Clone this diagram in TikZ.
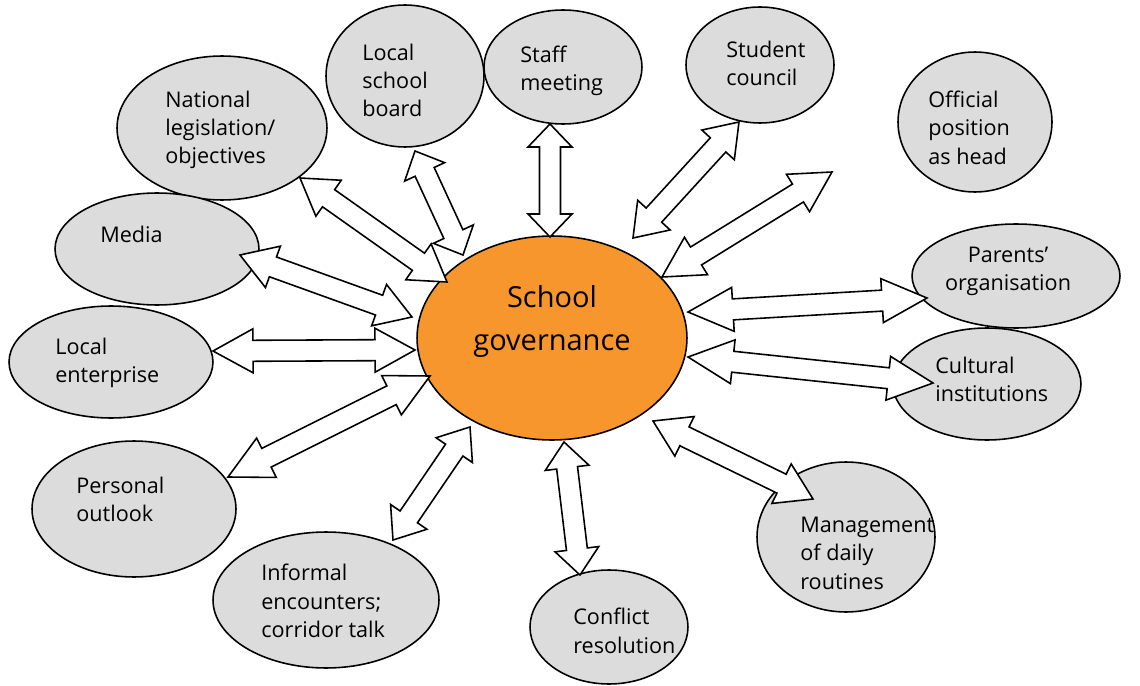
\documentclass[tikz,border=0pt]{standalone}
\usepackage{fontspec}
\setmainfont{Open Sans}
\usetikzlibrary{calc,shapes.geometric}
\definecolor{bubblegray}{RGB}{220,220,220}
\definecolor{coreorange}{RGB}{247,150,45}
\tikzset{
  bubble/.style={ellipse, draw=black, fill=bubblegray, line width=0.9pt, inner sep=0pt},
  core/.style={ellipse, draw=black, fill=coreorange, line width=0.9pt, inner sep=0pt},
  lbl/.style={font=\fontsize{12.3}{16}\selectfont, align=left, anchor=north west, inner sep=0pt},
  blockarrow/.style={draw=black, fill=white, line width=0.9pt, line join=miter},
}
% double-headed block arrow between two named points, #3 = head length
\newcommand{\blockdbl}[3]{%
  \draw[blockarrow] (#1)
    -- ($(#1)!#3!(#2)!0.44cm!90:(#2)$)
    -- ($(#1)!#3!(#2)!0.21cm!90:(#2)$)
    -- ($(#2)!#3!(#1)!0.21cm!-90:(#1)$)
    -- ($(#2)!#3!(#1)!0.44cm!-90:(#1)$)
    -- (#2)
    -- ($(#2)!#3!(#1)!0.44cm!90:(#1)$)
    -- ($(#2)!#3!(#1)!0.21cm!90:(#1)$)
    -- ($(#1)!#3!(#2)!0.21cm!-90:(#2)$)
    -- ($(#1)!#3!(#2)!0.44cm!-90:(#2)$)
    -- cycle;}
\begin{document}
\begin{tikzpicture}[x=0.02cm, y=-0.02cm]
\useasboundingbox (0,0) rectangle (1140,686);

% ellipses
\node[core, minimum width=5.4cm, minimum height=4.08cm] (gov) at (552,338) {};
\node[bubble, minimum width=3.16cm, minimum height=2.84cm] (lsb) at (405,76) {};
\node[bubble, minimum width=3.16cm, minimum height=2.28cm] (staff) at (563,67) {};
\node[bubble, minimum width=2.96cm, minimum height=2.32cm] (stu) at (760,65) {};
\node[bubble, minimum width=3.08cm, minimum height=2.8cm] (off) at (975,122) {};
\node[bubble, minimum width=4.2cm, minimum height=2.88cm] (nat) at (222,128) {};
\node[bubble, minimum width=4.08cm, minimum height=2.24cm] (med) at (157,249) {};
\node[bubble, minimum width=4.08cm, minimum height=2.24cm] (ent) at (111,362) {};
\node[bubble, minimum width=4.08cm, minimum height=2.72cm] (per) at (134,509) {};
\node[bubble, minimum width=4.52cm, minimum height=2.72cm] (inf) at (326,600) {};
\node[bubble, minimum width=3.16cm, minimum height=2.28cm] (con) at (609,627) {};
\node[bubble, minimum width=3.56cm, minimum height=3.0cm] (man) at (846,537) {};
\node[bubble, minimum width=3.76cm, minimum height=2.24cm] (cul) at (987,384) {};
\node[bubble, minimum width=4.16cm, minimum height=2.08cm] (par) at (1016,276) {};

% texts
\node[font=\fontsize{16.5}{24.4}\selectfont, align=center, anchor=north, inner sep=0pt] (govT) at (552,285) {School\\governance};
\node[lbl] (lsbT) at (362,44) {Local\\school\\board};
\node[lbl] (staffT) at (520,46) {Staff\\meeting};
\node[lbl] (stuT) at (726,41) {Student\\council};
\node[lbl] (offT) at (928,91) {Official\\position\\as head};
\node[lbl] (natT) at (165,91) {National\\legislation/\\objectives};
\node[lbl] (medT) at (100,226) {Media};
\node[lbl] (entT) at (55,338) {Local\\enterprise};
\node[lbl] (perT) at (76,477) {Personal\\outlook};
\node[lbl] (infT) at (261,564) {Informal\\encounters;\\corridor talk};
\node[lbl] (conT) at (573,608) {Conflict\\resolution};
\node[lbl] (manT) at (800,517) {Management\\of daily\\routines};
\node[lbl] (culT) at (935,357) {Cultural\\institutions};
\node[lbl, align=center, anchor=north] (parT) at (1008,247) {Parents’\\organisation};

% arrow end points
\coordinate (natA) at (300,178);  \coordinate (natB) at (447,282);
\coordinate (lsbA) at (415,151);  \coordinate (lsbB) at (463,255);
\coordinate (staffA) at (550,124); \coordinate (staffB) at (550,237);
\coordinate (stuA) at (739,122);  \coordinate (stuB) at (633,238);
\coordinate (offA) at (832,172);  \coordinate (offB) at (662,277);
\coordinate (parA) at (688,312);  \coordinate (parB) at (927,298);
\coordinate (culA) at (688,357);  \coordinate (culB) at (933,383);
\coordinate (manA) at (653,421);  \coordinate (manB) at (813,499);
\coordinate (conA) at (564,442);  \coordinate (conB) at (580,575);
\coordinate (infA) at (470,427);  \coordinate (infB) at (393,540);
\coordinate (perA) at (430,376);  \coordinate (perB) at (228,477);
\coordinate (entA) at (213,351);  \coordinate (entB) at (415,350);
\coordinate (medA) at (240,255);  \coordinate (medB) at (412,317);

% arrows
\blockdbl{natA}{natB}{0.7cm}
\blockdbl{lsbA}{lsbB}{0.46cm}
\blockdbl{staffA}{staffB}{0.46cm}
\blockdbl{stuA}{stuB}{0.62cm}
\blockdbl{offA}{offB}{0.8cm}
\blockdbl{parA}{parB}{0.9cm}
\blockdbl{culA}{culB}{0.9cm}
\blockdbl{manA}{manB}{0.7cm}
\blockdbl{conA}{conB}{0.52cm}
\blockdbl{infA}{infB}{0.56cm}
\blockdbl{perA}{perB}{0.86cm}
\blockdbl{entA}{entB}{0.8cm}
\blockdbl{medA}{medB}{0.7cm}
\end{tikzpicture}
\end{document}
